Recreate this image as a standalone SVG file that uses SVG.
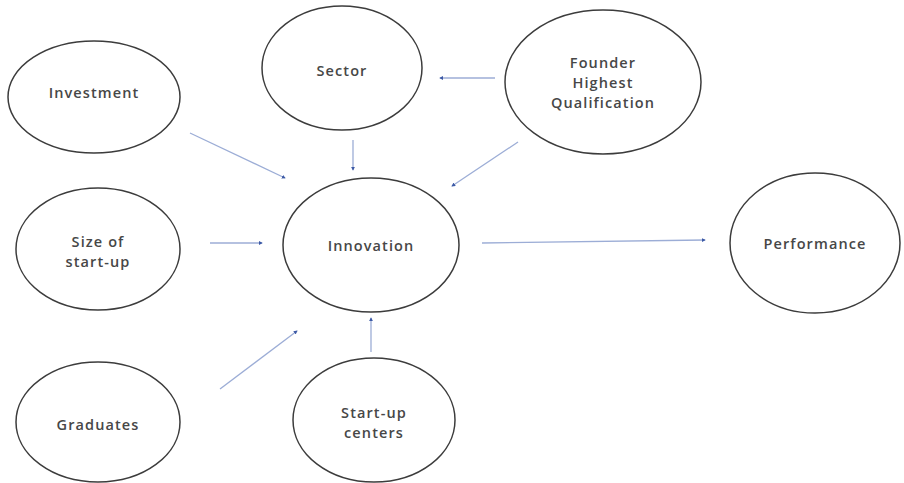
<svg xmlns="http://www.w3.org/2000/svg" width="904" height="483" viewBox="0 0 904 483">
  <defs>
    <marker id="head" viewBox="0 0 10 10" refX="8" refY="5" markerWidth="4" markerHeight="4" orient="auto" markerUnits="userSpaceOnUse">
      <path d="M0,0 L10,5 L0,10 z" fill="#3d5aa6"/>
    </marker>
    <style>
      .node ellipse { fill: #ffffff; stroke: #3c3c3c; stroke-width: 1.5; }
      .node text { font-family: "Open Sans", "Liberation Sans", sans-serif; font-size: 14.5px; font-weight: 600; letter-spacing: 1.1px; fill: #474747; text-anchor: middle; dominant-baseline: central; }
      #connectors line { stroke: #9cadd6; stroke-width: 1.3; marker-end: url(#head); }
    </style>
  </defs>
  <rect width="904" height="483" fill="#ffffff"/>

  <g id="connectors">
    <line x1="190" y1="133" x2="285" y2="178"/>
    <line x1="353" y1="140" x2="353" y2="170"/>
    <line x1="495" y1="78" x2="440" y2="78"/>
    <line x1="518" y1="142" x2="452" y2="186"/>
    <line x1="210" y1="243" x2="262" y2="243"/>
    <line x1="482" y1="243" x2="705" y2="240"/>
    <line x1="220" y1="389" x2="297" y2="331"/>
    <line x1="371" y1="352" x2="371" y2="318"/>
  </g>

  <g id="investment" class="node">
    <ellipse cx="94" cy="97" rx="86" ry="56"/>
    <text x="94" y="92">Investment</text>
  </g>
  <g id="sector" class="node">
    <ellipse cx="342" cy="68" rx="80" ry="62"/>
    <text x="342" y="70">Sector</text>
  </g>
  <g id="founder" class="node">
    <ellipse cx="603" cy="82" rx="98" ry="72"/>
    <text x="603" y="62">Founder</text>
    <text x="603" y="82">Highest</text>
    <text x="603" y="102">Qualification</text>
  </g>
  <g id="size" class="node">
    <ellipse cx="98" cy="249" rx="82" ry="61"/>
    <text x="98" y="241">Size of</text>
    <text x="98" y="261">start-up</text>
  </g>
  <g id="innovation" class="node">
    <ellipse cx="371" cy="245" rx="88" ry="67"/>
    <text x="371" y="245">Innovation</text>
  </g>
  <g id="performance" class="node">
    <ellipse cx="815" cy="243" rx="85" ry="70"/>
    <text x="815" y="243">Performance</text>
  </g>
  <g id="graduates" class="node">
    <ellipse cx="98" cy="422" rx="82" ry="60"/>
    <text x="98" y="424">Graduates</text>
  </g>
  <g id="startup-centers" class="node">
    <ellipse cx="374" cy="420" rx="81" ry="62"/>
    <text x="374" y="412">Start-up</text>
    <text x="374" y="432">centers</text>
  </g>
</svg>
